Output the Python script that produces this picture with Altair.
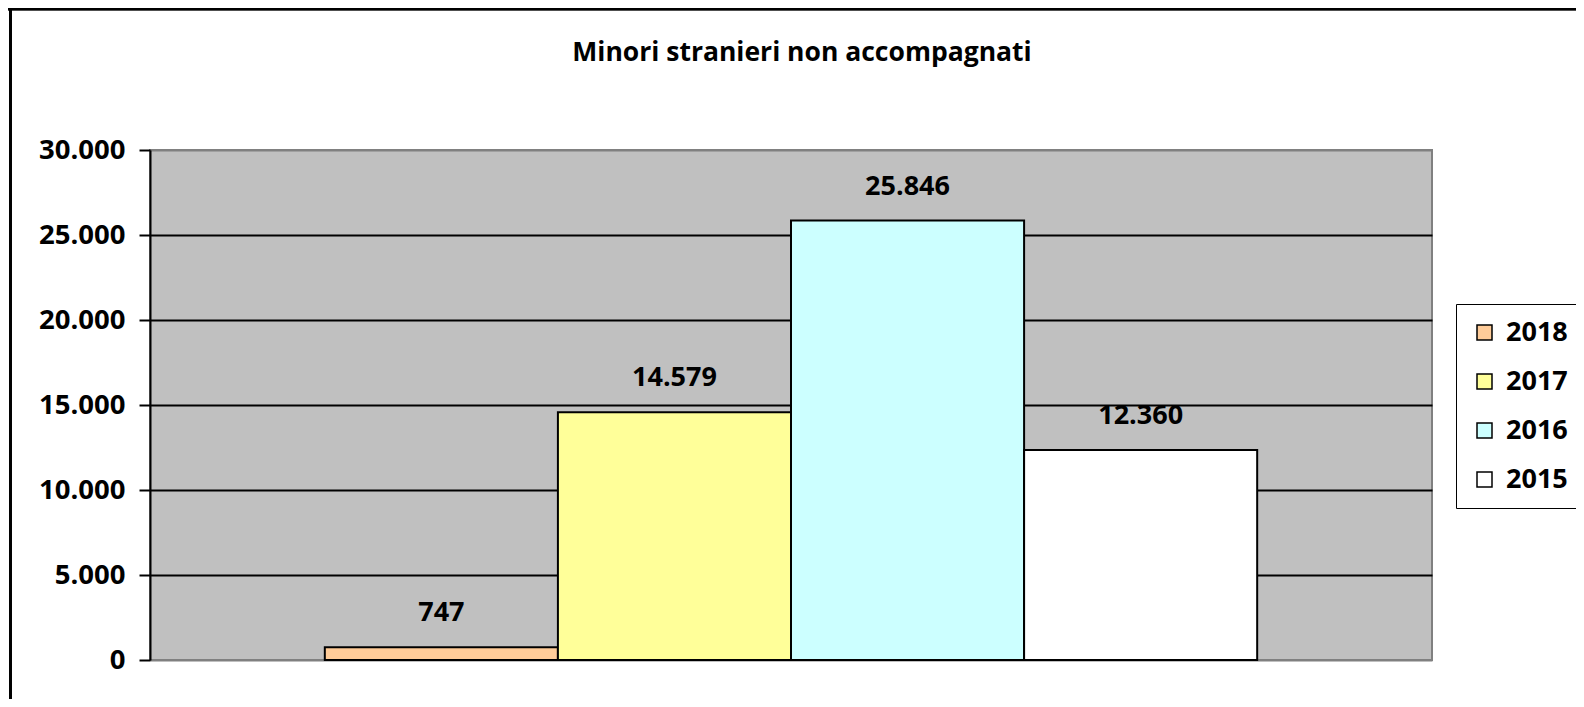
import altair as alt
import pandas as pd

years = ["2018", "2017", "2016", "2015"]
values = [747, 14579, 25846, 12360]
colors = ["#FFCC99", "#FFFF99", "#CCFFFF", "#FFFFFF"]
y_ticks = [0, 5000, 10000, 15000, 20000, 25000, 30000]
title_text = "Minori stranieri non accompagnati"

df = pd.DataFrame({"anno": years, "valore": values})
df["etichetta"] = [f"{v:,}".replace(",", ".") for v in values]

FONT = "Open Sans"
W, H = 1282, 510

x_enc = alt.X("anno:N", sort=years,
              scale=alt.Scale(paddingInner=0, paddingOuter=0.75), axis=None)
y_scale = alt.Scale(domain=[0, 30000], nice=False)

bars = alt.Chart(df).mark_bar(stroke="black", strokeWidth=2).encode(
    x=x_enc,
    y=alt.Y("valore:Q", scale=y_scale, title=None,
            axis=alt.Axis(values=y_ticks,
                          labelExpr="replace(format(datum.value, ','), ',', '.')",
                          labelFont=FONT, labelFontSize=27.5, labelFontWeight="bold",
                          labelColor="black", labelPadding=14,
                          tickSize=11, tickColor="black", tickWidth=2,
                          domainColor="black", domainWidth=2,
                          grid=True,
                          gridColor={"condition": {"test": "datum.value == 0 || datum.value == 30000",
                                                   "value": "#808080"},
                                     "value": "black"},
                          gridWidth=2)),
    color=alt.Color("anno:N", sort=years,
                    scale=alt.Scale(domain=years, range=colors),
                    legend=alt.Legend(title=None, orient="none", legendX=1306, legendY=154,
                                      strokeColor="black", padding=15,
                                      symbolType="square", symbolSize=225,
                                      symbolStrokeColor="black", symbolStrokeWidth=1.5,
                                      labelFont=FONT, labelFontSize=27, labelFontWeight="bold",
                                      labelColor="black", labelOffset=8, rowPadding=21)),
)

labels = alt.Chart(df).mark_text(
    font=FONT, fontSize=27, fontWeight="bold", color="black", dy=-34, baseline="middle"
).encode(x=x_enc, y=alt.Y("valore:Q", scale=y_scale), text="etichetta:N")

title_mark = alt.Chart(pd.DataFrame({"t": [title_text]})).mark_text(
    font=FONT, fontSize=26.5, fontWeight="bold", color="black", baseline="middle", align="center"
).encode(x=alt.value(652), y=alt.value(-97), text="t:N")

border_top = alt.Chart(df).mark_rule(color="black", strokeWidth=2.5).encode(
    x=alt.value(-142), x2=alt.value(1430), y=alt.value(-141))
border_left = alt.Chart(df).mark_rule(color="black", strokeWidth=2.5).encode(
    x=alt.value(-139.5), y=alt.value(-142), y2=alt.value(560))

chart = alt.layer(bars, labels, title_mark, border_top, border_left).properties(
    width=W, height=H,
    padding={"left": 142, "top": 142, "right": 144, "bottom": 39},
    autosize=alt.AutoSizeParams(type="none"),
    background="white",
).configure_view(stroke="#808080", strokeWidth=2, fill="#C0C0C0")

chart.save("out.html", embed_options={"renderer": "svg", "actions": False})
